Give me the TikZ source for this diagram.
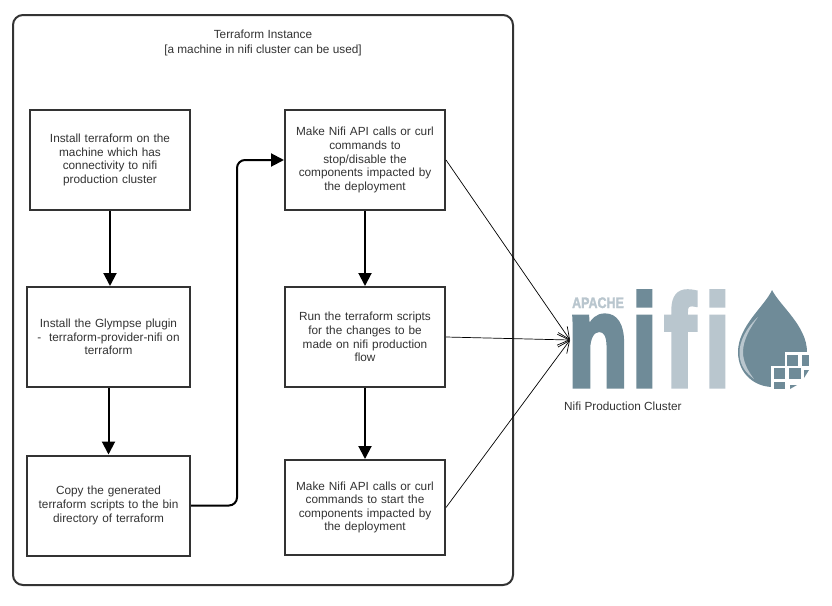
\documentclass[tikz,border=0pt]{standalone}
\usepackage{fontspec}
\setmainfont{Liberation Sans}
\newfontfamily\heavyface[UprightFont=* Bold,FakeBold=4]{Liberation Sans}
\newfontfamily\midface[UprightFont=* Bold,FakeBold=2]{Liberation Sans}
\usetikzlibrary{arrows.meta}
\definecolor{ink}{HTML}{333333}
\definecolor{nifidark}{HTML}{6F8B98}
\definecolor{nifilight}{HTML}{B9C6CE}
\newcommand{\logoglyph}[3]{\scalebox{#1}[#2]{#3}}
\tikzset{
  x=1pt,y=-1pt,
  stepbox/.style={draw=ink,line width=2pt,fill=white,minimum width=160pt,align=center,text width=150pt,inner sep=0pt,text=ink,font=\fontsize{11.8}{13.6}\selectfont},
  flow/.style={draw=black,line width=2pt,-{Triangle[length=13pt,width=13pt]}},
  feed/.style={draw=black,line width=0.7pt,-{Straight Barb[length=12pt,width=11pt]}},
  logoletter/.style={inner sep=0pt,anchor=base,font=\heavyface\fontsize{10}{10}\selectfont},
  caption/.style={text=ink,align=center,inner sep=0pt,font=\fontsize{11.8}{15}\selectfont}
}
\begin{document}
\begin{tikzpicture}
\useasboundingbox (0,0) rectangle (832,605);
\fill[white] (0,0) rectangle (832,605);
\node[draw=ink,line width=2pt,rounded corners=10pt,minimum width=500pt,minimum height=570pt,inner sep=0pt] (outer) at (263,300) {};
\node[caption] (title) at (263,42.5) {Terraform Instance\\{[}a machine in nifi cluster can be used{]}};
\node[stepbox,minimum height=100pt] (a) at (110,160) {Install terraform on the\\machine which has\\connectivity to nifi\\production cluster};
\node[stepbox,minimum width=163pt,minimum height=100pt] (b) at (108.5,337) {Install the Glympse plugin\\-\ \ terraform-provider-nifi on\\terraform};
\node[stepbox,minimum width=163pt,minimum height=100pt] (c) at (108.5,505.5) {Copy the generated\\terraform scripts to the bin\\directory of terraform};
\node[stepbox,minimum height=100pt] (d) at (365,160) {Make Nifi API calls or curl\\commands to\\stop/disable the\\components impacted by\\the deployment};
\node[stepbox,minimum height=100pt] (e) at (365,337) {Run the terraform scripts\\for the changes to be\\made on nifi production\\flow};
\node[stepbox,minimum height=95pt] (f) at (365,507.5) {Make Nifi API calls or curl\\commands to start the\\components impacted by\\the deployment};
\coordinate (logo) at (570,340);
\draw[flow] (a.south) -- (a.south |- b.north);
\draw[flow] (b) -- (c);
\draw[flow] (d) -- (e);
\draw[flow] (e) -- (f);
\draw[flow,rounded corners=8pt] (c.east) -- (237,505.5) -- (237,160) -- (d.west);
\draw[feed] (d.east) -- (logo);
\draw[feed] (e.east) -- (logo);
\draw[feed] (f.east) -- (logo);
% logo lettering
\node[logoletter,text=nifilight,font=\midface\fontsize{14.5}{14.5}\selectfont] (apache) at (598,308) {\scalebox{0.86}[1.05]{APACHE}};
\node[logoletter,text=nifidark] (n1) at (598,386) {\logoglyph{9.9}{13}{n}};
\node[logoletter,text=nifidark] (i1) at (644.5,386) {\logoglyph{9}{13}{i}};
\node[logoletter,text=nifilight] (f1) at (680,386) {\logoglyph{9.4}{13}{f}};
\node[logoletter,text=nifilight] (i2) at (717.5,386) {\logoglyph{9}{13}{i}};
% drop
\fill[nifidark] (772,290) .. controls (765,306) and (738,326) .. (738,352)
  .. controls (738,374) and (755,387) .. (773,387)
  .. controls (792,387) and (807,372) .. (807,352)
  .. controls (807,326) and (780,306) .. (772,290) -- cycle;
\fill[nifilight] (758,317) .. controls (746,328) and (739,342) .. (739.5,354)
  .. controls (740,366) and (746,373) .. (754,379)
  .. controls (748,371) and (743,362) .. (743,352)
  .. controls (743,340) and (750,328) .. (758,317) -- cycle;
\fill[white] (785,352) -- (810,352) -- (810,391) -- (771,391) -- (771,366) -- (785,366) -- cycle;
\fill[nifidark] (787,355) rectangle (798,366);
\fill[nifidark] (802,355) rectangle (809,366);
\fill[nifidark] (774,368) rectangle (785,379);
\fill[nifidark] (789,368) rectangle (801,379);
\fill[nifidark] (804,370) -- (809,370) -- (804,378) -- cycle;
\fill[nifidark] (774,382) rectangle (785,389);
\fill[nifidark] (790,385) -- (797,385) -- (790,389) -- cycle;
\node[caption,anchor=west] (cluster) at (564,406) {Nifi Production Cluster};
\end{tikzpicture}
\end{document}
